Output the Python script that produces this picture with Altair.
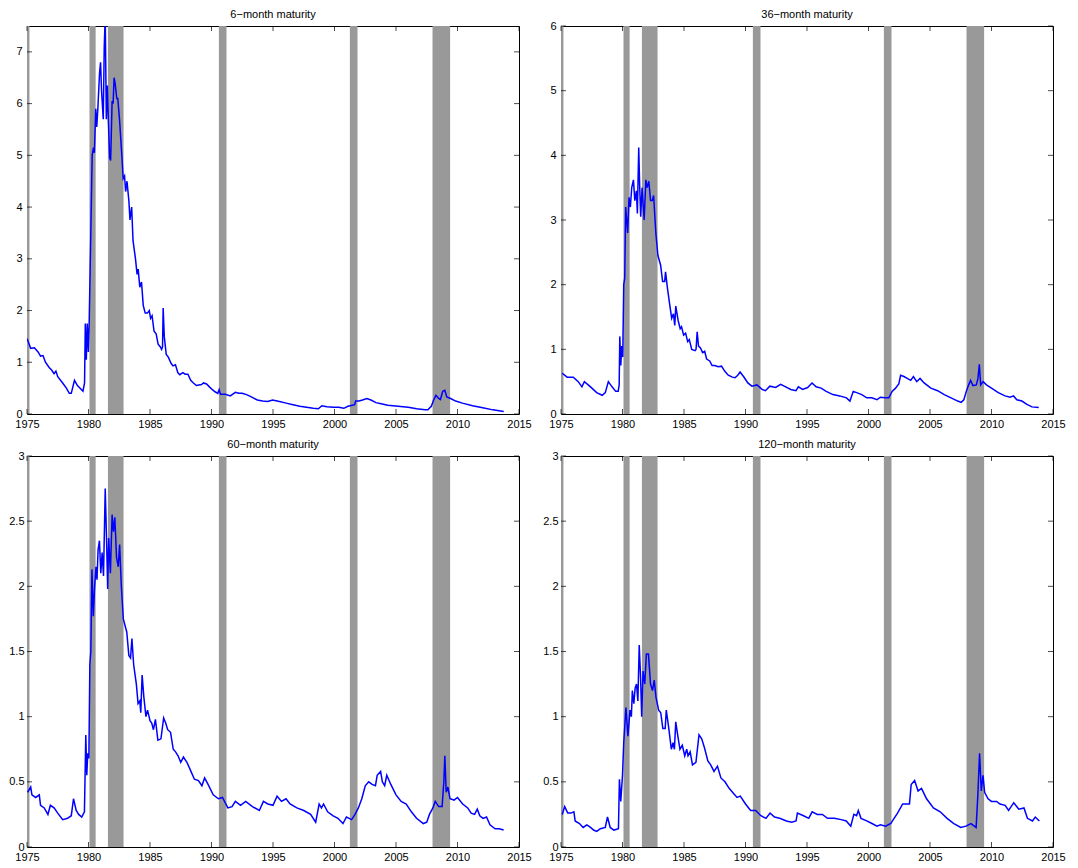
import altair as alt
import pandas as pd

FONT = "Liberation Sans"

X_TICKS = [1975, 1980, 1985, 1990, 1995, 2000, 2005, 2010, 2015]

# NBER recession periods (start, end) in decimal years
REC_START = [1975.0, 1980.08, 1981.58, 1990.6, 2001.25, 2007.97]
REC_END = [1975.2, 1980.58, 1982.85, 1991.22, 2001.87, 2009.4]

# ---- 6-month maturity ----
D6 = [1975.0, 1975.3, 1975.6, 1975.9, 1976.1, 1976.3, 1976.5, 1976.8, 1977.0, 1977.2,
      1977.35, 1977.5, 1977.9, 1978.2, 1978.44, 1978.6, 1978.86, 1979.1, 1979.55, 1979.68,
      1979.74, 1979.82, 1979.9, 1979.99, 1980.05, 1980.15, 1980.3, 1980.4, 1980.48, 1980.59,
      1980.67, 1980.76, 1980.9, 1980.98, 1981.06, 1981.2, 1981.28, 1981.36, 1981.45, 1981.53,
      1981.61, 1981.72, 1981.8, 1981.92, 1982.0, 1982.08, 1982.16, 1982.3, 1982.38, 1982.52,
      1982.71, 1982.82, 1982.93, 1983.02, 1983.13, 1983.29, 1983.37, 1983.51, 1983.62, 1983.82,
      1983.95, 1984.04, 1984.17, 1984.31, 1984.45, 1984.61, 1984.78, 1984.94, 1985.05, 1985.17,
      1985.33, 1985.5, 1985.66, 1985.83, 1985.94, 1986.02, 1986.07, 1986.16, 1986.32, 1986.49,
      1986.71, 1986.87, 1987.07, 1987.26, 1987.42, 1987.67, 1987.86, 1988.08, 1988.31, 1988.53,
      1988.77, 1988.97, 1989.19, 1989.35, 1989.6, 1989.85, 1990.07, 1990.29, 1990.51, 1990.62,
      1990.73, 1991.12, 1991.53, 1991.94, 1992.22, 1992.49, 1992.9, 1993.32, 1993.73, 1994.15,
      1994.56, 1994.97, 1995.52, 1996.07, 1996.63, 1997.18, 1997.73, 1998.28, 1998.69, 1998.97,
      1999.38, 1999.93, 2000.34, 2000.76, 2001.09, 2001.45, 2001.64, 2001.72, 2002.0, 2002.27,
      2002.63, 2002.96, 2003.37, 2003.79, 2004.34, 2005.17, 2005.99, 2006.68, 2007.37, 2007.59,
      2007.87, 2008.06, 2008.25, 2008.47, 2008.61, 2008.8, 2008.97, 2009.13, 2009.44, 2009.85,
      2010.4, 2011.23, 2012.05, 2012.88, 2013.76]
V6 = [1.46, 1.27, 1.28, 1.2, 1.12, 1.13, 1.0, 0.9, 0.85, 0.78,
      0.83, 0.72, 0.6, 0.5, 0.4, 0.4, 0.65, 0.55, 0.44, 0.6,
      1.75, 1.05, 1.75, 1.2, 1.7, 3.0, 5.0, 5.15, 5.05, 5.9,
      5.55, 5.9, 6.6, 6.8, 6.25, 5.7, 7.1, 7.7, 5.7, 6.35,
      5.7, 4.95, 4.9, 6.05, 6.0, 6.5, 6.4, 6.1, 6.1, 5.7,
      5.0, 4.55, 4.6, 4.3, 4.5, 4.1, 3.75, 4.0, 3.35, 3.0,
      2.7, 2.8, 2.45, 2.55, 2.1, 1.95, 1.95, 2.0, 1.85, 1.9,
      1.6, 1.55, 1.35, 1.3, 1.25, 1.3, 2.05, 1.5, 1.15, 1.1,
      0.98, 0.93, 0.95, 0.8, 0.76, 0.8, 0.77, 0.77, 0.65, 0.6,
      0.55, 0.56, 0.57, 0.6, 0.58, 0.52, 0.47, 0.43, 0.4, 0.47,
      0.38, 0.38, 0.35, 0.42, 0.4, 0.4, 0.37, 0.32, 0.27, 0.25,
      0.24, 0.27, 0.24, 0.21, 0.18, 0.15, 0.13, 0.11, 0.1, 0.16,
      0.14, 0.13, 0.13, 0.11, 0.15, 0.17, 0.18, 0.25, 0.25, 0.27,
      0.3, 0.27, 0.22, 0.2, 0.17, 0.15, 0.13, 0.1, 0.08, 0.08,
      0.15, 0.27, 0.36, 0.3, 0.28, 0.44, 0.46, 0.33, 0.3, 0.25,
      0.21, 0.16, 0.12, 0.08, 0.05]

# ---- 36-month maturity ----
D36 = [1975.1, 1975.5, 1976.0, 1976.4, 1976.7, 1976.9, 1977.4, 1977.9, 1978.35, 1978.6,
       1978.85, 1979.15, 1979.45, 1979.65, 1979.73, 1979.78, 1979.86, 1979.94, 1980.02, 1980.1,
       1980.18, 1980.26, 1980.42, 1980.53, 1980.64, 1980.75, 1980.89, 1981.0, 1981.13, 1981.21,
       1981.32, 1981.4, 1981.48, 1981.59, 1981.76, 1981.9, 1982.0, 1982.14, 1982.28, 1982.42,
       1982.53, 1982.6, 1982.71, 1982.88, 1983.1, 1983.26, 1983.43, 1983.5, 1983.65, 1983.87,
       1984.0, 1984.14, 1984.25, 1984.33, 1984.52, 1984.69, 1984.8, 1984.97, 1985.13, 1985.3,
       1985.43, 1985.63, 1985.9, 1985.98, 1986.07, 1986.18, 1986.34, 1986.51, 1986.68, 1986.84,
       1987.09, 1987.28, 1987.5, 1987.78, 1988.05, 1988.32, 1988.6, 1988.93, 1989.15, 1989.37,
       1989.56, 1989.84, 1990.19, 1990.52, 1990.93, 1991.35, 1991.62, 1991.98, 1992.45, 1992.86,
       1993.27, 1993.68, 1994.1, 1994.3, 1994.64, 1995.05, 1995.41, 1995.74, 1996.15, 1996.56,
       1997.11, 1997.66, 1998.21, 1998.49, 1998.76, 1999.04, 1999.45, 1999.86, 2000.27, 2000.69,
       2000.96, 2001.37, 2001.65, 2001.92, 2002.2, 2002.47, 2002.61, 2002.88, 2003.15, 2003.43,
       2003.65, 2003.92, 2004.19, 2004.52, 2005.07, 2005.62, 2006.16, 2006.71, 2007.26, 2007.53,
       2007.75, 2007.95, 2008.14, 2008.3, 2008.49, 2008.77, 2008.9, 2009.01, 2009.12, 2009.32,
       2009.59, 2010.0, 2010.55, 2011.1, 2011.51, 2011.79, 2012.06, 2012.47, 2012.88, 2013.29,
       2013.84]
V36 = [0.63, 0.57, 0.57, 0.5, 0.42, 0.5, 0.42, 0.33, 0.29, 0.33,
       0.5, 0.42, 0.35, 0.35, 0.45, 1.2, 0.75, 1.05, 0.88, 2.0,
       2.1, 3.2, 2.8, 3.35, 3.2, 3.5, 3.62, 3.3, 3.45, 3.1,
       4.12, 3.5, 3.05, 3.5, 3.0, 3.62, 3.5, 3.6, 3.3, 3.3,
       3.38, 3.15, 2.8, 2.45, 2.3, 2.05, 2.05, 2.2, 1.95, 1.65,
       1.48, 1.55, 1.37, 1.67, 1.45, 1.32, 1.35, 1.22, 1.25, 1.12,
       1.15, 1.0, 0.98, 1.0, 1.27, 1.05, 1.02, 0.95, 0.97, 0.85,
       0.82, 0.75, 0.75, 0.73, 0.74, 0.66, 0.6, 0.57, 0.56, 0.6,
       0.65, 0.58, 0.48, 0.43, 0.45, 0.38, 0.36, 0.43, 0.41, 0.46,
       0.42, 0.38, 0.36, 0.42, 0.38, 0.41, 0.48, 0.42, 0.4, 0.35,
       0.3, 0.28, 0.25, 0.2, 0.35, 0.33, 0.3, 0.25, 0.25, 0.22,
       0.26, 0.25, 0.25, 0.35, 0.4, 0.47, 0.6, 0.58, 0.55, 0.52,
       0.58, 0.5, 0.55, 0.48, 0.4, 0.36, 0.3, 0.25, 0.2, 0.18,
       0.22, 0.35, 0.45, 0.52, 0.44, 0.45, 0.55, 0.77, 0.45, 0.5,
       0.45, 0.4, 0.33, 0.28, 0.26, 0.28, 0.22, 0.2, 0.15, 0.11,
       0.1]

# ---- 60-month maturity ----
D60 = [1975.05, 1975.3, 1975.4, 1975.7, 1976.0, 1976.1, 1976.4, 1976.7, 1976.9, 1977.2,
       1977.5, 1977.9, 1978.3, 1978.6, 1978.78, 1979.0, 1979.2, 1979.45, 1979.67, 1979.78,
       1979.86, 1979.94, 1980.03, 1980.11, 1980.19, 1980.28, 1980.39, 1980.5, 1980.61, 1980.69,
       1980.78, 1980.89, 1981.0, 1981.11, 1981.22, 1981.36, 1981.47, 1981.56, 1981.64, 1981.78,
       1981.92, 1982.03, 1982.14, 1982.28, 1982.42, 1982.53, 1982.67, 1982.83, 1983.11, 1983.28,
       1983.42, 1983.53, 1983.67, 1983.89, 1984.03, 1984.17, 1984.25, 1984.36, 1984.5, 1984.67,
       1984.8, 1985.0, 1985.14, 1985.28, 1985.44, 1985.64, 1985.89, 1986.11, 1986.28, 1986.44,
       1986.67, 1986.89, 1987.08, 1987.28, 1987.5, 1987.72, 1988.0, 1988.33, 1988.61, 1988.94,
       1989.22, 1989.44, 1989.72, 1990.14, 1990.56, 1990.89, 1991.33, 1991.67, 1991.94, 1992.36,
       1992.78, 1993.33, 1993.89, 1994.22, 1994.58, 1995.0, 1995.33, 1995.69, 1996.06, 1996.39,
       1996.94, 1997.5, 1998.06, 1998.47, 1998.75, 1998.94, 1999.11, 1999.44, 1999.86, 2000.28,
       2000.69, 2000.97, 2001.39, 2001.67, 2001.94, 2002.22, 2002.5, 2002.78, 2003.06, 2003.33,
       2003.47, 2003.75, 2003.89, 2004.08, 2004.25, 2004.58, 2005.0, 2005.42, 2005.83, 2006.25,
       2006.67, 2007.22, 2007.5, 2007.72, 2008.0, 2008.19, 2008.47, 2008.75, 2008.89, 2008.97,
       2009.08, 2009.22, 2009.39, 2009.72, 2010.0, 2010.42, 2010.83, 2011.11, 2011.39, 2011.61,
       2011.81, 2012.08, 2012.36, 2012.64, 2013.06, 2013.39, 2013.75]
V60 = [0.42, 0.46, 0.4, 0.38, 0.4, 0.32, 0.3, 0.25, 0.32, 0.3,
       0.26, 0.21, 0.22, 0.24, 0.37, 0.28, 0.25, 0.23, 0.27, 0.86,
       0.55, 0.72, 0.68, 1.4, 1.5, 2.13, 1.77, 2.0, 2.15, 2.05,
       2.28, 2.35, 2.1, 2.26, 2.08, 2.75, 2.35, 1.98, 2.37, 2.1,
       2.55, 2.42, 2.53, 2.22, 2.15, 2.32, 2.0, 1.75, 1.65, 1.47,
       1.45, 1.6, 1.4, 1.25, 1.1, 1.12, 1.03, 1.32, 1.15, 1.0,
       1.05, 0.97, 0.95, 0.9, 0.98, 0.82, 0.83, 0.99, 0.95, 0.9,
       0.88, 0.75, 0.73, 0.7, 0.65, 0.69, 0.65, 0.58, 0.52, 0.51,
       0.47, 0.53, 0.48, 0.4, 0.37, 0.38, 0.3, 0.31, 0.35, 0.32,
       0.35, 0.31, 0.28, 0.35, 0.33, 0.32, 0.39, 0.35, 0.37, 0.33,
       0.3, 0.28, 0.25, 0.19, 0.33, 0.3, 0.33, 0.27, 0.24, 0.22,
       0.18, 0.23, 0.21, 0.25, 0.3, 0.37, 0.47, 0.5, 0.48, 0.47,
       0.55, 0.58, 0.5, 0.47, 0.55, 0.48, 0.4, 0.35, 0.33, 0.27,
       0.22, 0.18, 0.19, 0.25, 0.3, 0.35, 0.31, 0.31, 0.5, 0.7,
       0.42, 0.46, 0.37, 0.36, 0.38, 0.33, 0.3, 0.26, 0.25, 0.29,
       0.24, 0.22, 0.23, 0.17, 0.14, 0.14, 0.13]

# ---- 120-month maturity ----
D120 = [1975.1, 1975.3, 1975.55, 1975.8, 1976.05, 1976.15, 1976.5, 1976.8, 1977.1, 1977.4,
        1977.65, 1977.9, 1978.2, 1978.6, 1978.78, 1979.0, 1979.3, 1979.67, 1979.75, 1979.86,
        1980.0, 1980.1, 1980.28, 1980.44, 1980.61, 1980.72, 1980.8, 1980.92, 1981.03, 1981.14,
        1981.25, 1981.36, 1981.47, 1981.56, 1981.67, 1981.81, 1981.94, 1982.11, 1982.28, 1982.44,
        1982.58, 1982.72, 1982.94, 1983.11, 1983.28, 1983.47, 1983.56, 1983.75, 1983.97, 1984.11,
        1984.22, 1984.33, 1984.5, 1984.67, 1984.86, 1985.06, 1985.22, 1985.33, 1985.5, 1985.69,
        1985.97, 1986.22, 1986.44, 1986.67, 1986.94, 1987.17, 1987.44, 1987.72, 1988.0, 1988.33,
        1988.67, 1989.03, 1989.31, 1989.58, 1990.0, 1990.42, 1990.83, 1991.25, 1991.67, 1992.0,
        1992.36, 1992.78, 1993.33, 1993.75, 1994.11, 1994.22, 1994.72, 1995.14, 1995.42, 1995.83,
        1996.25, 1996.67, 1997.22, 1997.78, 1998.19, 1998.56, 1998.81, 1999.03, 1999.17, 1999.39,
        1999.86, 2000.28, 2000.69, 2000.97, 2001.39, 2001.81, 2002.08, 2002.36, 2002.78, 2003.06,
        2003.33, 2003.47, 2003.75, 2004.03, 2004.31, 2004.72, 2005.28, 2005.83, 2006.39, 2006.94,
        2007.5, 2007.92, 2008.33, 2008.75, 2008.89, 2009.03, 2009.17, 2009.31, 2009.44, 2009.72,
        2010.0, 2010.42, 2010.69, 2011.11, 2011.39, 2011.81, 2012.22, 2012.64, 2012.92, 2013.33,
        2013.56, 2013.89]
V120 = [0.25, 0.31, 0.26, 0.26, 0.27, 0.2, 0.18, 0.15, 0.17, 0.15,
        0.13, 0.12, 0.14, 0.15, 0.23, 0.15, 0.13, 0.14, 0.52, 0.35,
        0.55, 0.8, 1.07, 0.85, 1.05, 1.0, 1.2, 1.1, 1.22, 1.25,
        1.12, 1.55, 1.3, 1.0, 1.35, 1.25, 1.48, 1.48, 1.25, 1.2,
        1.28, 1.15, 1.05, 1.03, 0.91, 0.91, 1.05, 0.92, 0.75, 0.8,
        0.75, 0.96, 0.85, 0.75, 0.78, 0.7, 0.75, 0.7, 0.73, 0.63,
        0.65, 0.86, 0.83, 0.76, 0.66, 0.63, 0.58, 0.62, 0.53, 0.5,
        0.45, 0.41, 0.38, 0.39, 0.33, 0.28, 0.28, 0.24, 0.22, 0.26,
        0.23, 0.22, 0.2, 0.19, 0.2, 0.26, 0.24, 0.22, 0.27, 0.25,
        0.25, 0.22, 0.22, 0.21, 0.2, 0.16, 0.25, 0.24, 0.28, 0.22,
        0.2, 0.18, 0.16, 0.17, 0.16, 0.18, 0.22, 0.26, 0.33, 0.33,
        0.33, 0.48, 0.51, 0.43, 0.45, 0.37, 0.3, 0.27, 0.22, 0.18,
        0.15, 0.16, 0.18, 0.15, 0.4, 0.72, 0.43, 0.55, 0.42, 0.37,
        0.35, 0.35, 0.33, 0.32, 0.28, 0.34, 0.29, 0.3, 0.22, 0.2,
        0.23, 0.2]

PANELS = [
    ("6\u2212month maturity", D6, V6, 7.5, [0, 1, 2, 3, 4, 5, 6, 7]),
    ("36\u2212month maturity", D36, V36, 6, [0, 1, 2, 3, 4, 5, 6]),
    ("60\u2212month maturity", D60, V60, 3, [0, 0.5, 1, 1.5, 2, 2.5, 3]),
    ("120\u2212month maturity", D120, V120, 3, [0, 0.5, 1, 1.5, 2, 2.5, 3]),
]


def panel(title, dates, vals, ymax, yticks, w, h, ypad):
    xs = alt.Scale(domain=[1975, 2015], nice=False, zero=False)
    ys = alt.Scale(domain=[0, ymax], nice=False, zero=False)
    xax = alt.Axis(values=X_TICKS, format="d", title=None, grid=False, ticks=False,
                   domain=False, labelFlush=False, labelPadding=4, labelFontSize=11,
                   labelFont=FONT, labelColor="black", labelOverlap=False)
    yax = alt.Axis(values=yticks, format="~g", title=None, grid=False, ticks=False,
                   domain=False, labelFlush=False, labelPadding=ypad, labelFontSize=11,
                   labelFont=FONT, labelColor="black", labelOverlap=False)
    rec_df = pd.DataFrame({"s": REC_START, "e": REC_END,
                           "lo": [0.0] * len(REC_START), "hi": [float(ymax)] * len(REC_START)})
    rec = alt.Chart(rec_df).mark_rect(color="#999999").encode(
        x=alt.X("s:Q", scale=xs, axis=xax), x2="e:Q",
        y=alt.Y("lo:Q", scale=ys, axis=yax), y2="hi:Q")
    df = pd.DataFrame({"t": dates, "v": vals})
    line = alt.Chart(df).mark_line(color="#0000ff", strokeWidth=1.5, clip=True).encode(
        x=alt.X("t:Q", scale=xs, axis=xax), y=alt.Y("v:Q", scale=ys, axis=yax))
    xt_df = pd.DataFrame({"t": X_TICKS})
    yt_df = pd.DataFrame({"v": yticks})
    tk = dict(color="black", size=5, thickness=1)
    bt = alt.Chart(xt_df).mark_tick(**tk).encode(
        x=alt.X("t:Q", scale=xs, axis=xax), y=alt.value(h - 2.5))
    tt = alt.Chart(xt_df).mark_tick(**tk).encode(
        x=alt.X("t:Q", scale=xs, axis=xax), y=alt.value(2.5))
    lt = alt.Chart(yt_df).mark_tick(**tk).encode(
        y=alt.Y("v:Q", scale=ys, axis=yax), x=alt.value(2.5))
    rt = alt.Chart(yt_df).mark_tick(**tk).encode(
        y=alt.Y("v:Q", scale=ys, axis=yax), x=alt.value(w - 2.5))
    ttl = alt.Chart(pd.DataFrame({"title": [title]})).mark_text(
        font=FONT, fontSize=11, color="black", align="center", baseline="alphabetic"
    ).encode(text="title:N", x=alt.value(w / 2), y=alt.value(-8))
    return alt.layer(rec, line, bt, tt, lt, rt, ttl).properties(width=w, height=h)


W = 492
p1 = panel(*PANELS[0], W, 388, 5)
p2 = panel(*PANELS[1], W, 388, 5)
p3 = panel(*PANELS[2], W, 391, 3)
p4 = panel(*PANELS[3], W, 391, 3)

row1 = alt.hconcat(p1, p2, spacing=16)
row2 = alt.hconcat(p3, p4, spacing=10)

chart = alt.vconcat(row1, row2, spacing=8).properties(padding=0).configure_view(
    stroke="black", strokeWidth=1)

chart.save("out.html", embed_options={"renderer": "svg", "actions": False})
